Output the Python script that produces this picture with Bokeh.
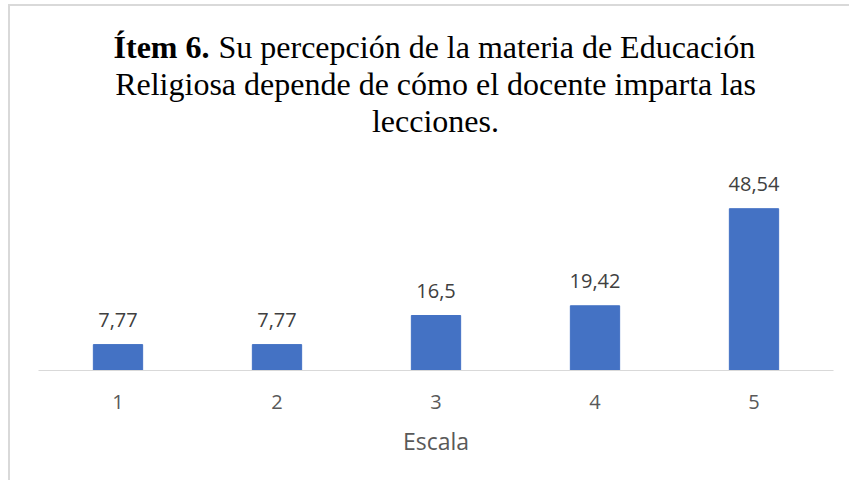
from bokeh.plotting import figure
from bokeh.models import FactorRange, Range1d
from bokeh.layouts import column
from bokeh.core.properties import value
from bokeh.embed import file_html
from bokeh.resources import INLINE

categories = ["1", "2", "3", "4", "5"]
values = [7.77, 7.77, 16.5, 19.42, 48.54]
value_labels = ["7,77", "7,77", "16,5", "19,42", "48,54"]
title_bold = "Ítem 6."
title_line1 = "Su percepción de la materia de Educación"
title_line2 = "Religiosa depende de cómo el docente imparta las"
title_line3 = "lecciones."
x_title = "Escala"

W = 839
TH = 164
serif = value("Liberation Serif")
sans = value("Open Sans")

# title figure: data coordinates equal page pixel coordinates
t = figure(width=W, height=TH, x_range=Range1d(38, 833), y_range=Range1d(170, 6),
           output_backend="svg", toolbar_location=None,
           min_border_left=28, min_border_right=16, min_border_top=0, min_border_bottom=0,
           x_axis_location=None, y_axis_location=None, outline_line_color=None)
t.grid.visible = False
t.text(x=[209], y=[46], text=[title_bold], text_font=serif, text_font_style="bold",
       text_font_size="32px", text_align="right", text_baseline="alphabetic", text_color="#000000")
t.text(x=[218], y=[46], text=[title_line1], text_font=serif,
       text_font_size="32px", text_align="left", text_baseline="alphabetic", text_color="#000000")
t.text(x=[435, 435], y=[83, 120], text=[title_line2, title_line3], text_font=serif,
       text_font_size="32px", text_align="center", text_baseline="alphabetic", text_color="#000000")

p = figure(width=W, height=310, x_range=FactorRange(*categories), y_range=Range1d(0, 60),
           output_backend="svg", toolbar_location=None, y_axis_location=None,
           min_border_left=28, min_border_right=16, min_border_top=0, min_border_bottom=110,
           outline_line_color=None)
p.grid.visible = False
p.vbar(x=categories, top=values, width=0.31, fill_color="#4472C4", line_color="#4472C4")
p.text(x=categories, y=values, text=value_labels, text_font=sans, text_font_size="20px",
       text_align="center", text_baseline="alphabetic", y_offset=-25, text_color="#404040")
ax = p.xaxis[0]
ax.axis_line_color = "#d9d9d9"
ax.axis_line_width = 1
ax.major_tick_line_color = None
ax.minor_tick_line_color = None
ax.major_label_text_font = "Open Sans"
ax.major_label_text_font_size = "20px"
ax.major_label_text_color = "#595959"
ax.major_label_standoff = 18
ax.axis_label = x_title
ax.axis_label_text_font = "Open Sans"
ax.axis_label_text_font_style = "normal"
ax.axis_label_text_font_size = "23px"
ax.axis_label_text_color = "#595959"
ax.axis_label_standoff = 13

layout = column(t, p, styles={"margin-left": "8px", "margin-top": "4px",
                              "border-left": "2px solid #d9d9d9",
                              "border-top": "2px solid #d9d9d9"})
open("out.html", "w").write(file_html(layout, INLINE))
